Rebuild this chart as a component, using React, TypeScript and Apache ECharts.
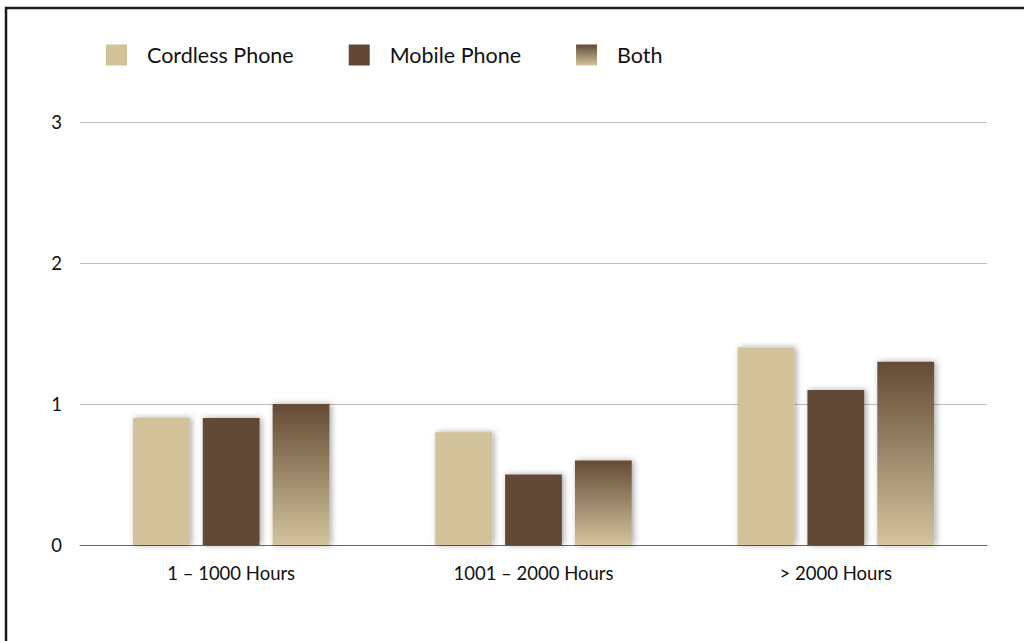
import React, { useEffect, useRef } from "react";
import * as echarts from "echarts";

const categories = ["1 – 1000 Hours", "1001 – 2000 Hours", "> 2000 Hours"];
const cordless = [0.9, 0.8, 1.4];
const mobile = [0.9, 0.5, 1.1];
const both = [1.0, 0.6, 1.3];
const seriesNames = ["Cordless Phone", "Mobile Phone", "Both"];

const FONT = "Lato";

export default function App() {
  const ref = useRef<HTMLDivElement>(null);
  useEffect(() => {
    document.body.style.margin = "0";
    const chart = echarts.init(ref.current!, null, { renderer: "svg" });
    const gradient = new echarts.graphic.LinearGradient(0, 0, 0, 1, [
      { offset: 0, color: "#654a34" },
      { offset: 0.5, color: "#9a8869" },
      { offset: 1, color: "#d3c49c" },
    ]);
    const shadow = {
      shadowColor: "rgba(0,0,0,0.35)",
      shadowBlur: 6,
      shadowOffsetX: 2,
      shadowOffsetY: 0,
    };
    chart.setOption({
      animation: false,
      backgroundColor: "#ffffff",
      graphic: [
        {
          type: "rect",
          shape: { x: 6, y: 8, width: 1100, height: 700 },
          style: { fill: "none", stroke: "#1a1a1a", lineWidth: 2.5 },
          silent: true,
        },
      ],
      legend: {
        left: 106,
        top: 44,
        padding: 0,
        itemWidth: 21,
        itemHeight: 21,
        itemGap: 55,
        icon: "rect",
        textStyle: {
          fontFamily: FONT,
          fontSize: 21.5,
          color: "#111",
          padding: [0, 0, 0, 15],
        },
        data: seriesNames,
      },
      grid: { left: 80, right: 37, top: 122, bottom: 96, containLabel: false },
      xAxis: {
        type: "category",
        data: categories,
        axisTick: { show: false },
        axisLine: { lineStyle: { color: "#666", width: 1 } },
        axisLabel: {
          fontFamily: FONT,
          fontSize: 18.5,
          color: "#111",
          margin: 18,
        },
      },
      yAxis: {
        type: "value",
        min: 0,
        max: 3,
        interval: 1,
        axisLine: { show: false },
        axisTick: { show: false },
        splitLine: { lineStyle: { color: "#bdbdbd", width: 1 } },
        axisLabel: {
          fontFamily: FONT,
          fontSize: 18.5,
          color: "#111",
          margin: 18,
        },
      },
      series: [
        {
          name: seriesNames[0],
          type: "bar",
          data: cordless,
          barGap: "23%",
          barCategoryGap: "35%",
          itemStyle: { color: "#d1c29a", ...shadow },
        },
        {
          name: seriesNames[1],
          type: "bar",
          data: mobile,
          barGap: "23%",
          barCategoryGap: "35%",
          itemStyle: { color: "#624835", ...shadow },
        },
        {
          name: seriesNames[2],
          type: "bar",
          data: both,
          barGap: "23%",
          barCategoryGap: "35%",
          itemStyle: { color: gradient, ...shadow },
        },
      ],
    });
    return () => chart.dispose();
  }, []);
  return <div ref={ref} style={{ width: 1024, height: 641 }} />;
}
